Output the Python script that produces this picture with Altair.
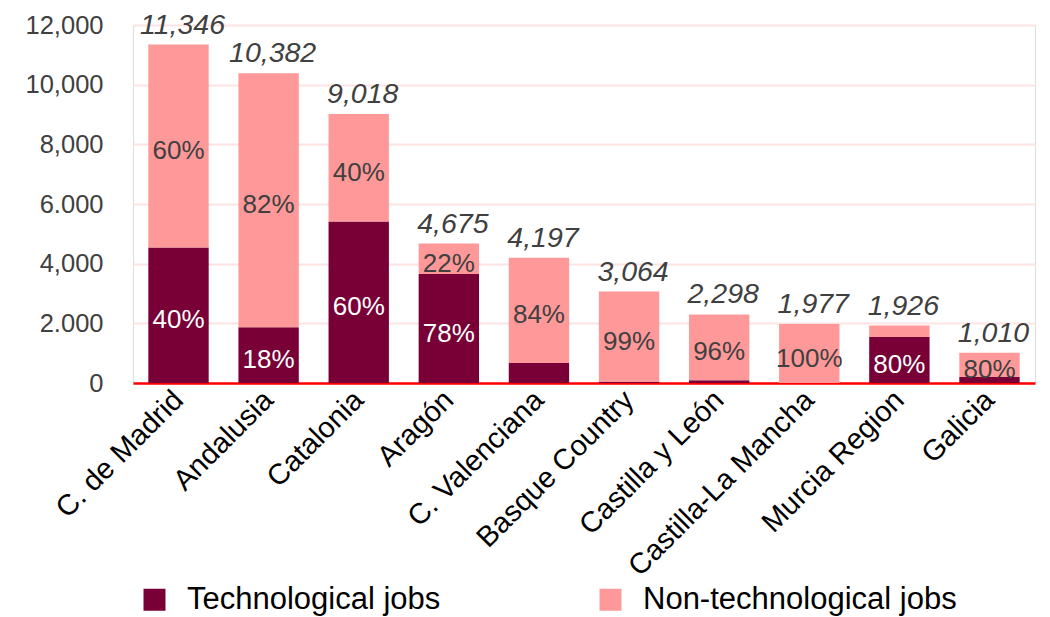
import altair as alt
import pandas as pd

regions = ["C. de Madrid", "Andalusia", "Catalonia", "Aragón", "C. Valenciana",
           "Basque Country", "Castilla y León", "Castilla-La Mancha", "Murcia Region", "Galicia"]
totals = [11346, 10382, 9018, 4675, 4197, 3064, 2298, 1977, 1926, 1010]
tech = [4540, 1870, 5410, 3650, 670, 30, 90, 0, 1540, 200]
nontech = [t - k for t, k in zip(totals, tech)]
tech_labels = ["40%", "18%", "60%", "78%", "", "", "", "", "80%", ""]
nontech_labels = ["60%", "82%", "40%", "22%", "84%", "99%", "96%", "100%", "", "80%"]
series = ["Technological jobs", "Non-technological jobs"]
colors = ["#780036", "#FF9999"]
y_ticks = [0, 2000, 4000, 6000, 8000, 10000, 12000]
y_tick_labels = ["0", "2.000", "4,000", "6.000", "8,000", "10,000", "12,000"]

FONT = "Liberation Sans"

rows = []
for i, r in enumerate(regions):
    rows.append({"region": r, "series": series[0], "value": tech[i], "ord": 0,
                 "mid": tech[i] / 2, "label": tech_labels[i]})
    rows.append({"region": r, "series": series[1], "value": nontech[i], "ord": 1,
                 "mid": tech[i] + nontech[i] / 2, "label": nontech_labels[i]})
df = pd.DataFrame(rows)
df_tot = pd.DataFrame({"region": regions, "total": totals,
                       "label": [f"{t:,}" for t in totals]})

label_expr = " : ".join(
    f"datum.value == {v} ? '{l}'" for v, l in zip(y_ticks, y_tick_labels)
) + " : ''"

xenc = alt.X("region:N", sort=regions, title=None,
             scale=alt.Scale(paddingInner=0.33, paddingOuter=0.17),
             axis=alt.Axis(labelAngle=-45, labelAlign="right", labelBaseline="middle",
                           labelFontSize=29, labelColor="#000000", labelFont=FONT,
                           labelPadding=12, ticks=False, domainColor="#FF0000",
                           domainWidth=2.5, labelLimit=400))
yscale = alt.Scale(domain=[0, 12000], nice=False)

bars = alt.Chart(df).mark_bar().encode(
    x=xenc,
    y=alt.Y("value:Q", stack="zero", scale=yscale, title=None,
            axis=alt.Axis(values=y_ticks, labelExpr=label_expr, labelFontSize=25.5,
                          labelColor="#404040", labelFont=FONT, labelPadding=30,
                          ticks=False, domain=False, gridColor="#FDE3E3", gridWidth=2)),
    color=alt.Color("series:N", scale=alt.Scale(domain=series, range=colors),
                    sort=series,
                    legend=alt.Legend(title=None, orient="none", legendX=6, legendY=559,
                                      direction="horizontal", symbolType="square",
                                      symbolSize=484, symbolStrokeWidth=0, labelFontSize=31,
                                      labelFont=FONT, labelColor="#000000", labelOffset=17,
                                      columnPadding=154, padding=0, labelLimit=500,
                                      symbolOpacity=1)),
    order=alt.Order("ord:Q"),
)

tech_text = alt.Chart(df[df["ord"] == 0]).mark_text(
    fontSize=26, font=FONT, color="#FFFFFF", baseline="middle", dy=5).encode(
    x=alt.X("region:N", sort=regions), y=alt.Y("mid:Q", scale=yscale), text="label:N")
non_text = alt.Chart(df[df["ord"] == 1]).mark_text(
    fontSize=26, font=FONT, color="#404040", baseline="middle", dy=5).encode(
    x=alt.X("region:N", sort=regions), y=alt.Y("mid:Q", scale=yscale), text="label:N")
tot_text = alt.Chart(df_tot).mark_text(
    fontSize=28.5, font=FONT, fontStyle="italic", color="#404040",
    baseline="alphabetic", dy=-11, dx=4).encode(
    x=alt.X("region:N", sort=regions), y=alt.Y("total:Q", scale=yscale), text="label:N")

chart = alt.layer(bars, tech_text, non_text, tot_text).properties(
    width=902, height=358,
    autosize=alt.AutoSizeParams(type="none"),
    padding={"left": 125, "top": 17, "right": 7, "bottom": 250},
).configure_view(stroke=None).configure(background="#FFFFFF")

chart.save("out.html", embed_options={"renderer": "svg", "actions": False})
